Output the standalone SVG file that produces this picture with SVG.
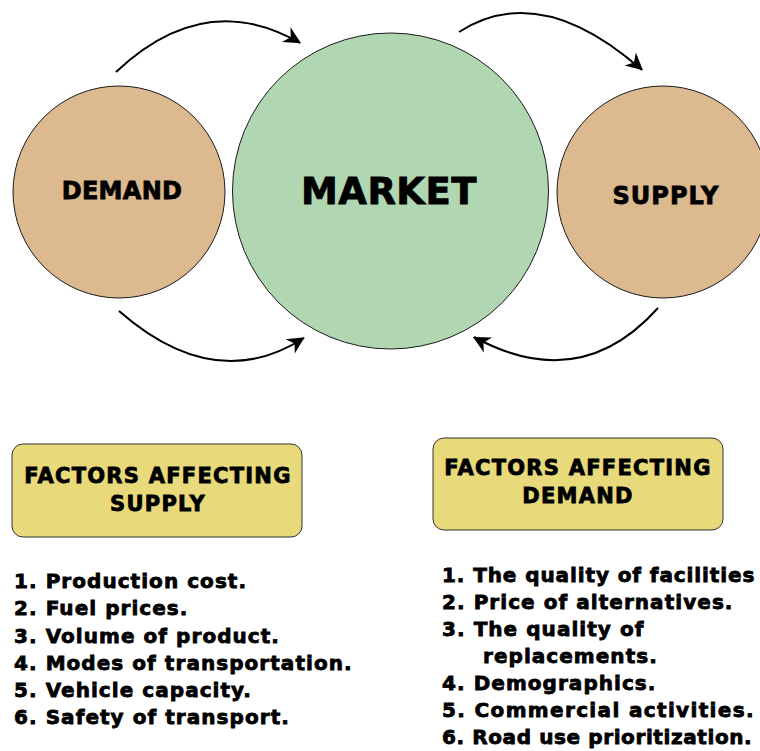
<svg xmlns="http://www.w3.org/2000/svg" width="760" height="751" viewBox="0 0 760 751">
<style>
.t{font-family:"DejaVu Sans","Liberation Sans",sans-serif;font-weight:bold;fill:#000;stroke:#000;stroke-width:0.8}
.c{text-anchor:middle}
.list{font-size:20px;letter-spacing:1.05px}
.hdr{font-size:21px;letter-spacing:1.25px}
.tan{fill:#DDB98F;stroke:#1a1a1a;stroke-width:1}
.box{fill:#E8D97B;stroke:#333;stroke-width:1}
.arr{fill:none;stroke:#000;stroke-width:2}
</style>
<defs>
<marker id="ah" viewBox="0 0 10 10" refX="9" refY="5" markerWidth="9" markerHeight="9" markerUnits="userSpaceOnUse" orient="auto" overflow="visible">
<path d="M0,0 L10,5 L0,10 L3,5 z" fill="#000" transform="scale(1.9) translate(-4.7,-2.6)"/>
</marker>
</defs>
<rect width="760" height="751" fill="#fff"/>
<g id="demand">
<circle class="tan" cx="119" cy="192" r="106"/>
<text class="t c" x="122" y="199" font-size="24" letter-spacing="0.3">DEMAND</text>
</g>
<g id="market">
<circle cx="390.5" cy="191" r="158" fill="#B1D7B2" stroke="#1a1a1a" stroke-width="1"/>
<text class="t c" x="389" y="204" font-size="37" letter-spacing="0.5">MARKET</text>
</g>
<g id="supply">
<circle class="tan" cx="663" cy="192" r="106"/>
<text class="t c" x="666" y="204" font-size="24" letter-spacing="1">SUPPLY</text>
</g>
<g id="connectors">
<path class="arr" d="M116,72 Q205,-12 300,43" marker-end="url(#ah)"/>
<path class="arr" d="M459,32 Q540,-20 642,70" marker-end="url(#ah)"/>
<path class="arr" d="M119,311 Q215,395 304,338" marker-end="url(#ah)"/>
<path class="arr" d="M658,308 Q580,395 474,337" marker-end="url(#ah)"/>
</g>
<g id="supply-factors">
<rect class="box" x="12" y="444" width="290" height="93" rx="11"/>
<text class="t c hdr" x="158" y="483">FACTORS AFFECTING</text>
<text class="t c hdr" x="158" y="511">SUPPLY</text>
</g>
<g id="demand-factors">
<rect class="box" x="433" y="438" width="290" height="92" rx="11"/>
<text class="t c hdr" x="578" y="475">FACTORS AFFECTING</text>
<text class="t c hdr" x="578" y="503">DEMAND</text>
</g>
<g id="supply-list" class="t list">
<text x="14" y="588">1. Production cost.</text>
<text x="14" y="615">2. Fuel prices.</text>
<text x="14" y="643">3. Volume of product.</text>
<text x="14" y="670">4. Modes of transportation.</text>
<text x="14" y="697">5. Vehicle capacity.</text>
<text x="14" y="724">6. Safety of transport.</text>
</g>
<g id="demand-list" class="t list">
<text x="442" y="582" letter-spacing="0.9">1. The quality of facilities</text>
<text x="442" y="609">2. Price of alternatives.</text>
<text x="442" y="636">3. The quality of</text>
<text x="483" y="663">replacements.</text>
<text x="442" y="690">4. Demographics.</text>
<text x="442" y="717" letter-spacing="1.35">5. Commercial activities.</text>
<text x="442" y="744" letter-spacing="0.6">6. Road use prioritization.</text>
</g>
</svg>
